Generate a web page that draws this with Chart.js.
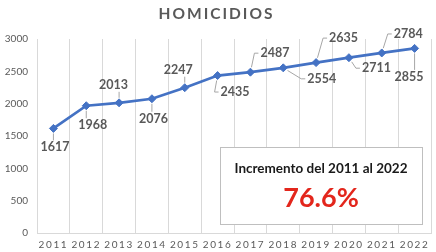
<!DOCTYPE html>
<html>
<head>
<meta charset="utf-8">
<script src="https://cdn.jsdelivr.net/npm/chart.js@4"></script>
<style>
html,body{margin:0;padding:0;background:#fff;}
#wrap{width:436px;height:252px;position:relative;}
</style>
</head>
<body>
<div id="wrap"><canvas id="c" width="436" height="252"></canvas></div>
<script>
const years = ['2011','2012','2013','2014','2015','2016','2017','2018','2019','2020','2021','2022'];
const homicidios = [1617,1968,2013,2076,2247,2435,2487,2554,2635,2711,2784,2855];
const yTicks = [0,500,1000,1500,2000,2500,3000];
const chartTitle = 'HOMICIDIOS';
const boxLine1 = 'Incremento del 2011 al 2022';
const boxLine2 = '76.6%';

// label offsets (style): text center relative to its point
const labelOffsets = [[1.5,19],[6.5,19.5],[-5.5,-18],[1.5,20],[-6.5,-18],[17.5,16.5],[24.5,-19],[38.5,11],[27.5,-24.5],[27.5,10.5],[26.5,-19],[-5.5,28.5]];

const FONT = 'Lato, "Open Sans", sans-serif';
const GRAY = '#595959';

function wrapSpacing(obj, method, sp){
  const orig = obj[method];
  if (!orig || orig._wrapped) return;
  const w = function(...a){
    const ctx = this.ctx;
    const prev = ctx.letterSpacing;
    ctx.letterSpacing = sp;
    const r = orig.apply(this, a);
    ctx.letterSpacing = prev;
    return r;
  };
  w._wrapped = true;
  obj[method] = w;
}

const spacingPlugin = {
  id: 'spacing',
  afterLayout(chart){
    if (chart.scales.x) wrapSpacing(chart.scales.x, 'drawLabels', '1.6px');
    if (chart.titleBlock) wrapSpacing(chart.titleBlock, 'draw', '2px');
  }
};

const labelPlugin = {
  id: 'dataLabels',
  afterDatasetsDraw(chart){
    const ctx = chart.ctx;
    const meta = chart.getDatasetMeta(0);
    const data = chart.data.datasets[0].data;
    ctx.save();
    ctx.font = 'bold 12.5px ' + FONT;
    ctx.textAlign = 'center';
    ctx.textBaseline = 'middle';
    meta.data.forEach((pt, i) => {
      const off = labelOffsets[i];
      const cx = pt.x + off[0], cy = pt.y + off[1];
      const txt = String(data[i]);
      const w = ctx.measureText(txt).width, h = 10;
      const bx0 = cx - w/2 - 2, bx1 = cx + w/2 + 2, by0 = cy - h/2 - 2, by1 = cy + h/2 + 2;
      let sx, sy, mx, my;
      if (pt.x < bx0 || pt.x > bx1) {
        const side = pt.x < bx0 ? bx0 : bx1;
        sx = side; sy = cy;
        mx = side + (pt.x < bx0 ? -4 : 4); my = cy;
      } else {
        sx = pt.x; sy = pt.y < by0 ? by0 : by1; mx = sx; my = sy;
      }
      const dx = pt.x - mx, dy = pt.y - my;
      const dist = Math.hypot(dx, dy);
      if (dist > 8) {
        const ex = pt.x - dx/dist*5, ey = pt.y - dy/dist*5;
        ctx.strokeStyle = '#a6a6a6';
        ctx.lineWidth = 1;
        ctx.beginPath();
        ctx.moveTo(sx, sy);
        ctx.lineTo(mx, my);
        ctx.lineTo(ex, ey);
        ctx.stroke();
      }
      ctx.fillStyle = GRAY;
      ctx.fillText(txt, cx, cy);
    });
    ctx.restore();
  }
};

const boxPlugin = {
  id: 'infoBox',
  afterDraw(chart){
    const ctx = chart.ctx;
    ctx.save();
    ctx.fillStyle = '#ffffff';
    ctx.fillRect(220.5, 147.5, 202, 77);
    ctx.strokeStyle = '#bfbfbf';
    ctx.lineWidth = 1;
    ctx.strokeRect(220.5, 147.5, 202, 77);
    ctx.textAlign = 'center';
    ctx.textBaseline = 'middle';
    ctx.fillStyle = '#1a1a1a';
    ctx.font = 'bold 13.5px ' + FONT;
    ctx.fillText(boxLine1, 321, 169);
    ctx.fillStyle = '#e3261c';
    ctx.font = 'bold 27px ' + FONT;
    ctx.fillText(boxLine2, 321, 198);
    ctx.restore();
  }
};

new Chart(document.getElementById('c'), {
  type: 'line',
  data: {
    labels: years,
    datasets: [{
      data: homicidios,
      borderColor: '#4472c4',
      backgroundColor: '#4472c4',
      borderWidth: 2.75,
      pointStyle: 'rectRot',
      pointRadius: 4,
      pointBorderWidth: 1,
      tension: 0,
      clip: false
    }]
  },
  options: {
    responsive: false,
    animation: false,
    devicePixelRatio: 1,
    layout: { padding: { left: 0, right: 3, top: 0, bottom: 0 } },
    plugins: {
      legend: { display: false },
      tooltip: { enabled: false },
      title: {
        display: true,
        text: chartTitle,
        color: GRAY,
        font: { family: FONT, size: 15.5, weight: 'bold', lineHeight: 1.2 },
        padding: { top: 5, bottom: 15.4 }
      }
    },
    scales: {
      x: {
        offset: true,
        grid: { display: true, offset: true, color: '#d9d9d9', drawTicks: false, lineWidth: 1 },
        border: { display: true, color: '#d9d9d9' },
        ticks: { color: GRAY, font: { family: FONT, size: 10 }, padding: 6, maxRotation: 0, autoSkip: false },
        afterFit(s){ s.height = 19; }
      },
      y: {
        min: 0, max: 3000,
        afterBuildTicks(s){ s.ticks = yTicks.map(v => ({ value: v })); },
        grid: { display: false, drawTicks: false },
        border: { display: false },
        ticks: { color: GRAY, font: { family: FONT, size: 10 }, padding: 9, callback: v => String(v) },
        afterFit(s){ s.width = 37; }
      }
    }
  },
  plugins: [spacingPlugin, labelPlugin, boxPlugin]
});
</script>
</body>
</html>
